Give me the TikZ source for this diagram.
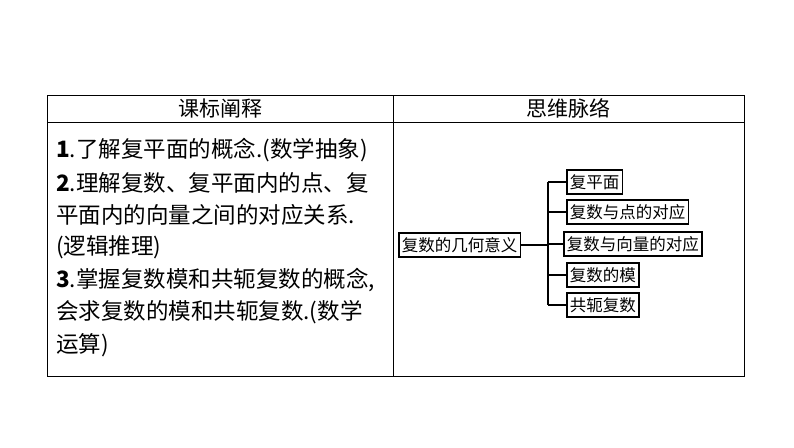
\documentclass[tikz,border=0pt]{standalone}
\usepackage{fontspec}
\setmainfont{Liberation Serif}
\newfontfamily\cjk{Noto Sans CJK SC}
\begin{document}
\begin{tikzpicture}[x=1pt,y=-1pt,
  cbox/.style={draw,line width=1.6pt,inner xsep=3pt,inner ysep=1pt,font=\cjk\fontsize{16.5}{18}\selectfont,anchor=west,minimum height=24pt},
  ln/.style={line width=1.6pt}]
\useasboundingbox (0,0) rectangle (794,447);
\draw[line width=0.8pt] (47,95) rectangle (744,376);
\draw[line width=0.8pt] (47,122) -- (744,122);
\draw[line width=0.8pt] (393,95) -- (393,376);
\node[font=\cjk\fontsize{21}{22}\selectfont] (h1) at (220,108.5) {课标阐释};
\node[font=\cjk\fontsize{21}{22}\selectfont] (h2) at (568,108.5) {思维脉络};
\foreach \t [count=\i] in {{\textbf{1}.了解复平面的概念.(数学抽象)},{\textbf{2}.理解复数、复平面内的点、复},{平面内的向量之间的对应关系.},{(逻辑推理)},{\textbf{3}.掌握复数模和共轭复数的概念,},{会求复数的模和共轭复数.(数学},{运算)}}
  \node[anchor=west,inner sep=0pt,font=\cjk\fontsize{22.5}{24}\selectfont] (l\i) at (56,{150+(\i-1)*32.5}) {\t};
\node[cbox] (root) at (398,245) {复数的几何意义};
\node[cbox] (c1) at (566,182) {复平面};
\node[cbox] (c2) at (566,212) {复数与点的对应};
\node[cbox] (c3) at (563,244) {复数与向量的对应};
\node[cbox] (c4) at (566,275) {复数的模};
\node[cbox] (c5) at (566,305) {共轭复数};
\coordinate (t) at (548,182);
\coordinate (b) at (548,305);
\draw[ln] (t) -- (b);
\draw[ln] (root.east) -- (548,245);
\foreach \i in {1,...,5} \draw[ln] (c\i.west) -- (548,0 |- c\i.west);
\end{tikzpicture}
\end{document}
